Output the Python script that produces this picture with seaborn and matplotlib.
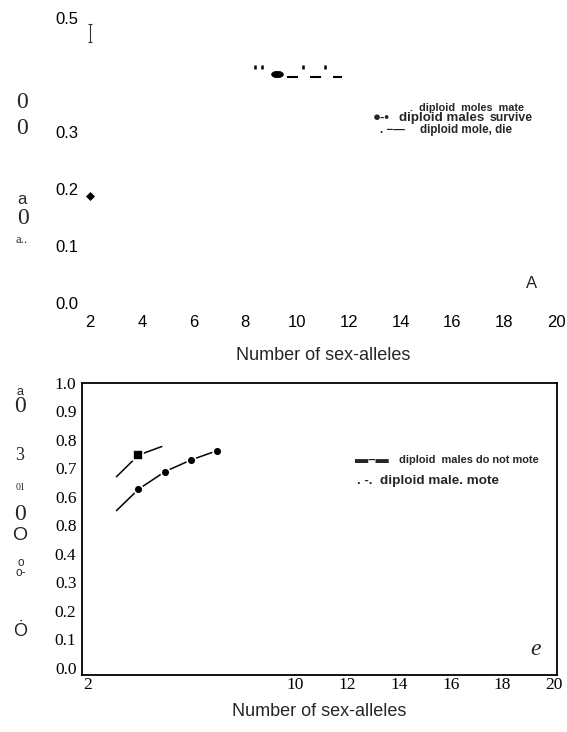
import numpy as np
import matplotlib
matplotlib.use("Agg")
import matplotlib.pyplot as plt
import seaborn as sns

# --- panel A (top) ---
top_xticks = [2, 4, 6, 8, 10, 12, 14, 16, 18, 20]
top_yticks = [0.0, 0.1, 0.2, 0.3, 0.5]
top_yticklabels = ["0.0", "0.1", "0.2", "0.3", "0.5"]
top_minor_x = [12, 14]

survive_line_x = [9.22, 11.73]
survive_line_y = [0.397, 0.397]
survive_pt_x = [9.22]
survive_pt_y = [0.402]
quote_x = [8.37, 8.64, 10.22, 11.07]
quote_y = [0.414, 0.414, 0.414, 0.414]
diamond_x = [2]
diamond_y = [0.188]
bar_x = [2]
bar_y = [0.474]
bar_err = [0.016]

# --- panel B (bottom) ---
bottom_xticks = [2, 10, 12, 14, 16, 18, 20]
bottom_yticks = [0.0, 0.1, 0.2, 0.3, 0.4, 0.5, 0.6, 0.7, 0.8, 0.9, 1.0]
bottom_yticklabels = ["0.0", "0.1", "0.2", "0.3", "0.4", "0.8", "0.6", "0.7", "0.8", "0.9", "1.0"]
bottom_minor_x = [16]

square_x = [3.1, 3.95, 4.85]
square_y = [0.671, 0.747, 0.777]
circle_x = [3.1, 3.95, 4.97, 5.98, 6.97]
circle_y = [0.552, 0.627, 0.689, 0.730, 0.762]

W, H = 567, 732


def fx(px):
    return px / W


def fy(py):
    return 1 - py / H


sns.set_theme(style="white")
plt.rcParams["font.family"] = ["Liberation Sans", "DejaVu Sans"]
serif = ["Liberation Serif", "DejaVu Serif"]

fig = plt.figure(figsize=(W / 100, H / 100), dpi=100)

# ---------------- panel A ----------------
ax1 = fig.add_axes([fx(90), fy(303), (556 - 90) / W, (303 - 18) / H])
for s in ax1.spines.values():
    s.set_visible(False)

t = np.linspace(0, 2 * np.pi, 40)
ellipse = np.column_stack([np.cos(t), 0.55 * np.sin(t)])

sns.lineplot(x=survive_line_x, y=survive_line_y, ax=ax1, color="black", lw=1.5,
             linestyle=(6.25, (5.3, 5.75)), estimator=None, sort=False)
sns.lineplot(x=survive_pt_x, y=survive_pt_y, ax=ax1, color="black", lw=0,
             marker=ellipse, markersize=8.5, markeredgecolor="black",
             markeredgewidth=0.5, estimator=None)
sns.lineplot(x=quote_x, y=quote_y, ax=ax1, color="black", lw=0, marker="|",
             markersize=3.3, markeredgecolor="black", markeredgewidth=1.8,
             estimator=None)
sns.lineplot(x=diamond_x, y=diamond_y, ax=ax1, color="black", lw=0, marker="D",
             markersize=4.5, markeredgecolor="black", markeredgewidth=0.5,
             estimator=None, clip_on=False)
ax1.errorbar(bar_x, bar_y, yerr=bar_err, fmt="none", ecolor="#333333",
             elinewidth=0.8, capsize=1.2, capthick=0.8, clip_on=False)

ax1.set_xlim(2, 20)
ax1.set_ylim(0, 0.5)
ax1.set_xticks(top_xticks)
ax1.set_xticklabels([str(v) for v in top_xticks])
ax1.set_yticks(top_yticks)
ax1.set_yticklabels(top_yticklabels)
ax1.set_xticks(top_minor_x, minor=True)
ax1.tick_params(axis="both", which="major", length=0, labelsize=12, colors="black")
ax1.tick_params(axis="x", which="major", pad=9)
ax1.tick_params(axis="y", which="major", pad=8.5)
ax1.tick_params(axis="x", which="minor", length=3.2, width=0.7, color="#555555",
                direction="out", bottom=True)
ax1.set_xlabel("Number of sex-alleles", fontsize=13, labelpad=12)
ax1.set_ylabel("")
ax1.text(19.07, 0.035, "A", fontsize=12, ha="center", va="center")

# legend-like labels of panel A
fig.text(fx(410), fy(108), ".  diploid  moles  mate", fontsize=7.8, fontweight="bold",
         va="center")
fig.text(fx(373), fy(118), "\u25CF-\u2022", fontsize=9.5, fontweight="bold", va="center")
fig.text(fx(399), fy(118), "diploid males", fontsize=9.6, fontweight="bold", va="center")
fig.text(fx(490), fy(118), "survive", fontsize=8.8, fontweight="bold", va="center")
fig.text(fx(380), fy(130), ". \u2212\u2014", fontsize=8.4, fontweight="bold", va="center")
fig.text(fx(420), fy(130), "diploid mole, die", fontsize=8.4, fontweight="bold", va="center")

# garbled axis label fragments, panel A
for s, x, y, size, fam in [("0", 22, 103, 17, serif), ("0", 22, 128, 17, serif),
                           ("a", 22, 199, 12, None), ("0", 23, 218, 17, serif),
                           ("a..", 22, 240, 9, serif)]:
    kw = {"family": fam} if fam else {}
    fig.text(fx(x), fy(y), s, fontsize=size, ha="center", va="center", **kw)

# ---------------- panel B ----------------
ax2 = fig.add_axes([fx(82), fy(675), (557 - 82) / W, (675 - 383) / H])
for s in ax2.spines.values():
    s.set_visible(True)
    s.set_color("black")
    s.set_linewidth(1.3)

sns.lineplot(x=square_x, y=square_y, ax=ax2, color="black", lw=1.1, marker="s",
             markevery=[1], markersize=6.5, markeredgecolor="white",
             markeredgewidth=1.2, estimator=None, sort=False)
sns.lineplot(x=circle_x, y=circle_y, ax=ax2, color="black", lw=1.1, marker="o",
             markevery=[1, 2, 3, 4], markersize=6.3, markeredgecolor="white",
             markeredgewidth=1.2, estimator=None, sort=False)

ax2.set_xlim(1.77, 20.1)
ax2.set_ylim(-0.025, 1.0)
ax2.set_xticks(bottom_xticks)
ax2.set_xticklabels([str(v) for v in bottom_xticks], family=serif)
ax2.set_yticks(bottom_yticks)
ax2.set_yticklabels(bottom_yticklabels, family=serif)
ax2.set_xticks(bottom_minor_x, minor=True)
ax2.tick_params(axis="both", which="major", length=0, labelsize=12.5, colors="black")
ax2.tick_params(axis="x", which="major", pad=1.5)
ax2.tick_params(axis="y", which="major", pad=4)
ax2.tick_params(axis="x", which="minor", length=7, width=0.6, color="#666666",
                direction="inout", bottom=True)
ax2.set_xlabel("Number of sex-alleles", fontsize=13, labelpad=7)
ax2.set_ylabel("")
ax2.text(19.26, 0.063, "e", fontsize=17, style="italic", family=serif,
         ha="center", va="center")

# legend-like labels of panel B
fig.text(fx(355), fy(460), "\u25AC\u2013\u25AC", fontsize=9.5, fontweight="bold", va="center")
fig.text(fx(399), fy(460), "diploid  males do not mote", fontsize=7.9, fontweight="bold",
         va="center")
fig.text(fx(357), fy(481), ". -.", fontsize=9.5, fontweight="bold", va="center")
fig.text(fx(380), fy(481), "diploid male. mote", fontsize=9.7, fontweight="bold", va="center")

# garbled axis label fragments, panel B
for s, x, y, size, fam in [("a", 20, 392, 9, None), ("0", 20, 407, 17, serif),
                           ("3", 20, 456, 13, serif), ("01", 20, 487, 7, serif),
                           ("0", 20, 514, 17, serif), ("O", 20, 535, 14, None),
                           ("\u022E", 20, 631, 13, None)]:
    kw = {"family": fam} if fam else {}
    fig.text(fx(x), fy(y), s, fontsize=size, ha="center", va="center", **kw)
fig.text(fx(21), fy(568), "o\no-", fontsize=8.5, ha="center", va="center",
         linespacing=0.85)

fig.savefig("out.png", dpi=100)
